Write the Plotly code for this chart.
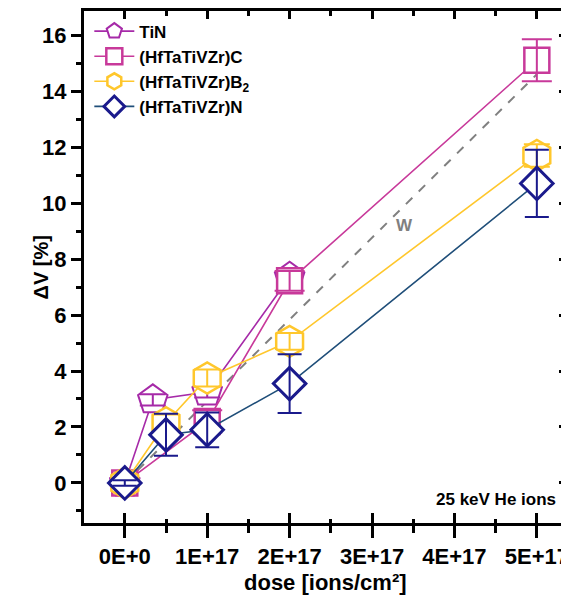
import plotly.graph_objects as go

# ---------------- data ----------------
tin_x = [0, 3.4e16, 1e17, 2e17]
tin_y = [0, 2.97, 3.25, 7.35]
tin_e = [0.15, 0.2, 0.2, 0.3]

c_x = [0, 1e17, 2e17, 5e17]
c_y = [0, 2.2, 7.22, 15.1]
c_e = [0.1, 0.4, 0.35, 0.75]

b2_x = [0, 5e16, 1e17, 2e17, 5e17]
b2_y = [0, 2.15, 3.75, 5.06, 11.7]
b2_e = [0.1, 0.3, 0.3, 0.3, 0.4]

n_x = [0, 5e16, 1e17, 2e17, 5e17]
n_y = [0, 1.72, 1.9, 3.55, 10.7]
n_e = [0.1, 0.75, 0.62, 1.05, 1.2]

w_x = [0, 5e17]
w_y = [0, 14.6]

x_tickvals = [0, 1e17, 2e17, 3e17, 4e17, 5e17]
x_ticktext = ["0E+0", "1E+17", "2E+17", "3E+17", "4E+17", "5E+17"]
y_tickvals = [0, 2, 4, 6, 8, 10, 12, 14, 16]

XR = [-0.495e17, 5.366e17]
YR = [-1.43, 16.86]

FONT = "Liberation Sans, Arial, sans-serif"

TIN_C = "#A62AA8"
C_C = "#C8399A"
B2_C = "#FFC72C"
N_C = "#1A1A8C"
N_LINE = "#1F4E79"
W_C = "#808080"

fig = go.Figure()

# W reference line
fig.add_trace(go.Scatter(x=w_x, y=w_y, mode="lines", showlegend=False,
                         line=dict(color=W_C, width=2, dash="dash"), hoverinfo="skip"))

series = [
    ("TiN", tin_x, tin_y, tin_e, TIN_C, TIN_C, "pentagon", 31, 2, 13),
    ("(HfTaTiVZr)C", c_x, c_y, c_e, C_C, C_C, "square", 25, 2.5, 15),
    ("(HfTaTiVZr)B<sub>2</sub>", b2_x, b2_y, b2_e, B2_C, B2_C, "hexagon", 31, 2.5, 13),
    ("(HfTaTiVZr)N", n_x, n_y, n_e, N_C, N_LINE, "diamond", 25, 3, 12),
]

for name, xs, ys, es, mc, lc, sym, size, mlw, capw in series:
    fig.add_trace(go.Scatter(
        x=xs, y=ys, mode="lines+markers", name=name,
        line=dict(color=lc, width=1.6),
        marker=dict(symbol=sym, size=size, color="white",
                    line=dict(color=mc, width=mlw)),
        hoverinfo="skip"))
    fig.add_trace(go.Scatter(
        x=xs, y=ys, mode="markers", showlegend=False,
        marker=dict(size=1, color="rgba(0,0,0,0)"),
        error_y=dict(type="data", array=es, visible=True, color=mc,
                     thickness=2, width=capw),
        hoverinfo="skip"))

# dummy traces for overlay axes
fig.add_trace(go.Scatter(x=[None], y=[None], xaxis="x2", yaxis="y", showlegend=False, hoverinfo="skip"))
fig.add_trace(go.Scatter(x=[None], y=[None], xaxis="x3", yaxis="y", showlegend=False, hoverinfo="skip"))
fig.add_trace(go.Scatter(x=[None], y=[None], xaxis="x", yaxis="y2", showlegend=False, hoverinfo="skip"))

tickfont = dict(family=FONT, size=22, color="black", weight="bold")

fig.update_layout(
    width=561, height=588,
    margin=dict(l=76, r=2, t=3, b=73, autoexpand=False),
    plot_bgcolor="white", paper_bgcolor="white",
    showlegend=True,
    legend=dict(x=0.011, y=0.995, xanchor="left", yanchor="top",
                bgcolor="rgba(0,0,0,0)", borderwidth=0,
                font=dict(family=FONT, size=17, color="black", weight="bold"),
                tracegroupgap=0, itemwidth=40),
    xaxis=dict(range=XR, autorange=False, automargin=False, tickmode="array", tickvals=x_tickvals,
               ticktext=x_ticktext, ticks="outside", ticklen=12, tickwidth=3,
               tickcolor="black", showline=True, linecolor="black", linewidth=3,
               showgrid=False, zeroline=False, tickfont=tickfont,
               minor=dict(ticks="outside", ticklen=7, tickwidth=3, tickcolor="black",
                          tick0=0, dtick=0.5e17, showgrid=False)),
    xaxis2=dict(range=XR, autorange=False, automargin=False, overlaying="x", anchor="y", side="bottom",
                tickmode="array", tickvals=x_tickvals, ticks="inside", ticklen=10,
                tickwidth=3, tickcolor="black", showticklabels=False, showline=False,
                showgrid=False, zeroline=False,
                minor=dict(ticks="inside", ticklen=4, tickwidth=3, tickcolor="black",
                           tick0=0, dtick=0.5e17, showgrid=False)),
    xaxis3=dict(range=XR, autorange=False, automargin=False, overlaying="x", anchor="y", side="top",
                tickmode="array", tickvals=x_tickvals, ticks="inside", ticklen=8,
                tickwidth=3, tickcolor="black", showticklabels=False, showline=True,
                linecolor="black", linewidth=3, showgrid=False, zeroline=False,
                minor=dict(ticks="inside", ticklen=5, tickwidth=3, tickcolor="black",
                           tick0=0, dtick=0.5e17, showgrid=False)),
    yaxis=dict(range=YR, autorange=False, automargin=False, tickmode="array", tickvals=y_tickvals,
               ticks="outside", ticklen=10, tickwidth=3, tickcolor="black",
               showline=True, linecolor="black", linewidth=3, showgrid=False,
               zeroline=False, tickfont=tickfont,
               minor=dict(ticks="outside", ticklen=5, tickwidth=3, tickcolor="black",
                          tick0=-1, dtick=1, showgrid=False)),
    yaxis2=dict(range=YR, autorange=False, automargin=False, overlaying="y", anchor="x", side="right",
                tickmode="array", tickvals=y_tickvals, ticks="inside", ticklen=8,
                tickwidth=3, tickcolor="black", showticklabels=False, showline=True,
                linecolor="black", linewidth=3, showgrid=False, zeroline=False,
                minor=dict(ticks="inside", ticklen=5, tickwidth=3, tickcolor="black",
                           tick0=-1, dtick=1, showgrid=False)),
    annotations=[
        dict(x=3.4e17, y=9.21, xref="x", yref="y", text="W", showarrow=False,
             font=dict(family=FONT, size=17, color=W_C, weight="bold")),
        dict(x=0.981, y=0.045, xref="paper", yref="paper", xanchor="right", yanchor="middle",
             text="25 keV He ions", showarrow=False,
             font=dict(family=FONT, size=17, color="black", weight="bold")),
        dict(x=-0.088, y=0.5, xref="paper", yref="paper", xanchor="center", yanchor="middle",
             text="ΔV [%]", textangle=-90, showarrow=False,
             font=dict(family=FONT, size=20, color="black", weight="bold")),
        dict(x=0.5, y=-0.117, xref="paper", yref="paper", xanchor="center", yanchor="middle",
             text="dose [ions/cm²]", showarrow=False,
             font=dict(family=FONT, size=22, color="black", weight="bold")),
    ],
)

fig.write_html("out.html")
